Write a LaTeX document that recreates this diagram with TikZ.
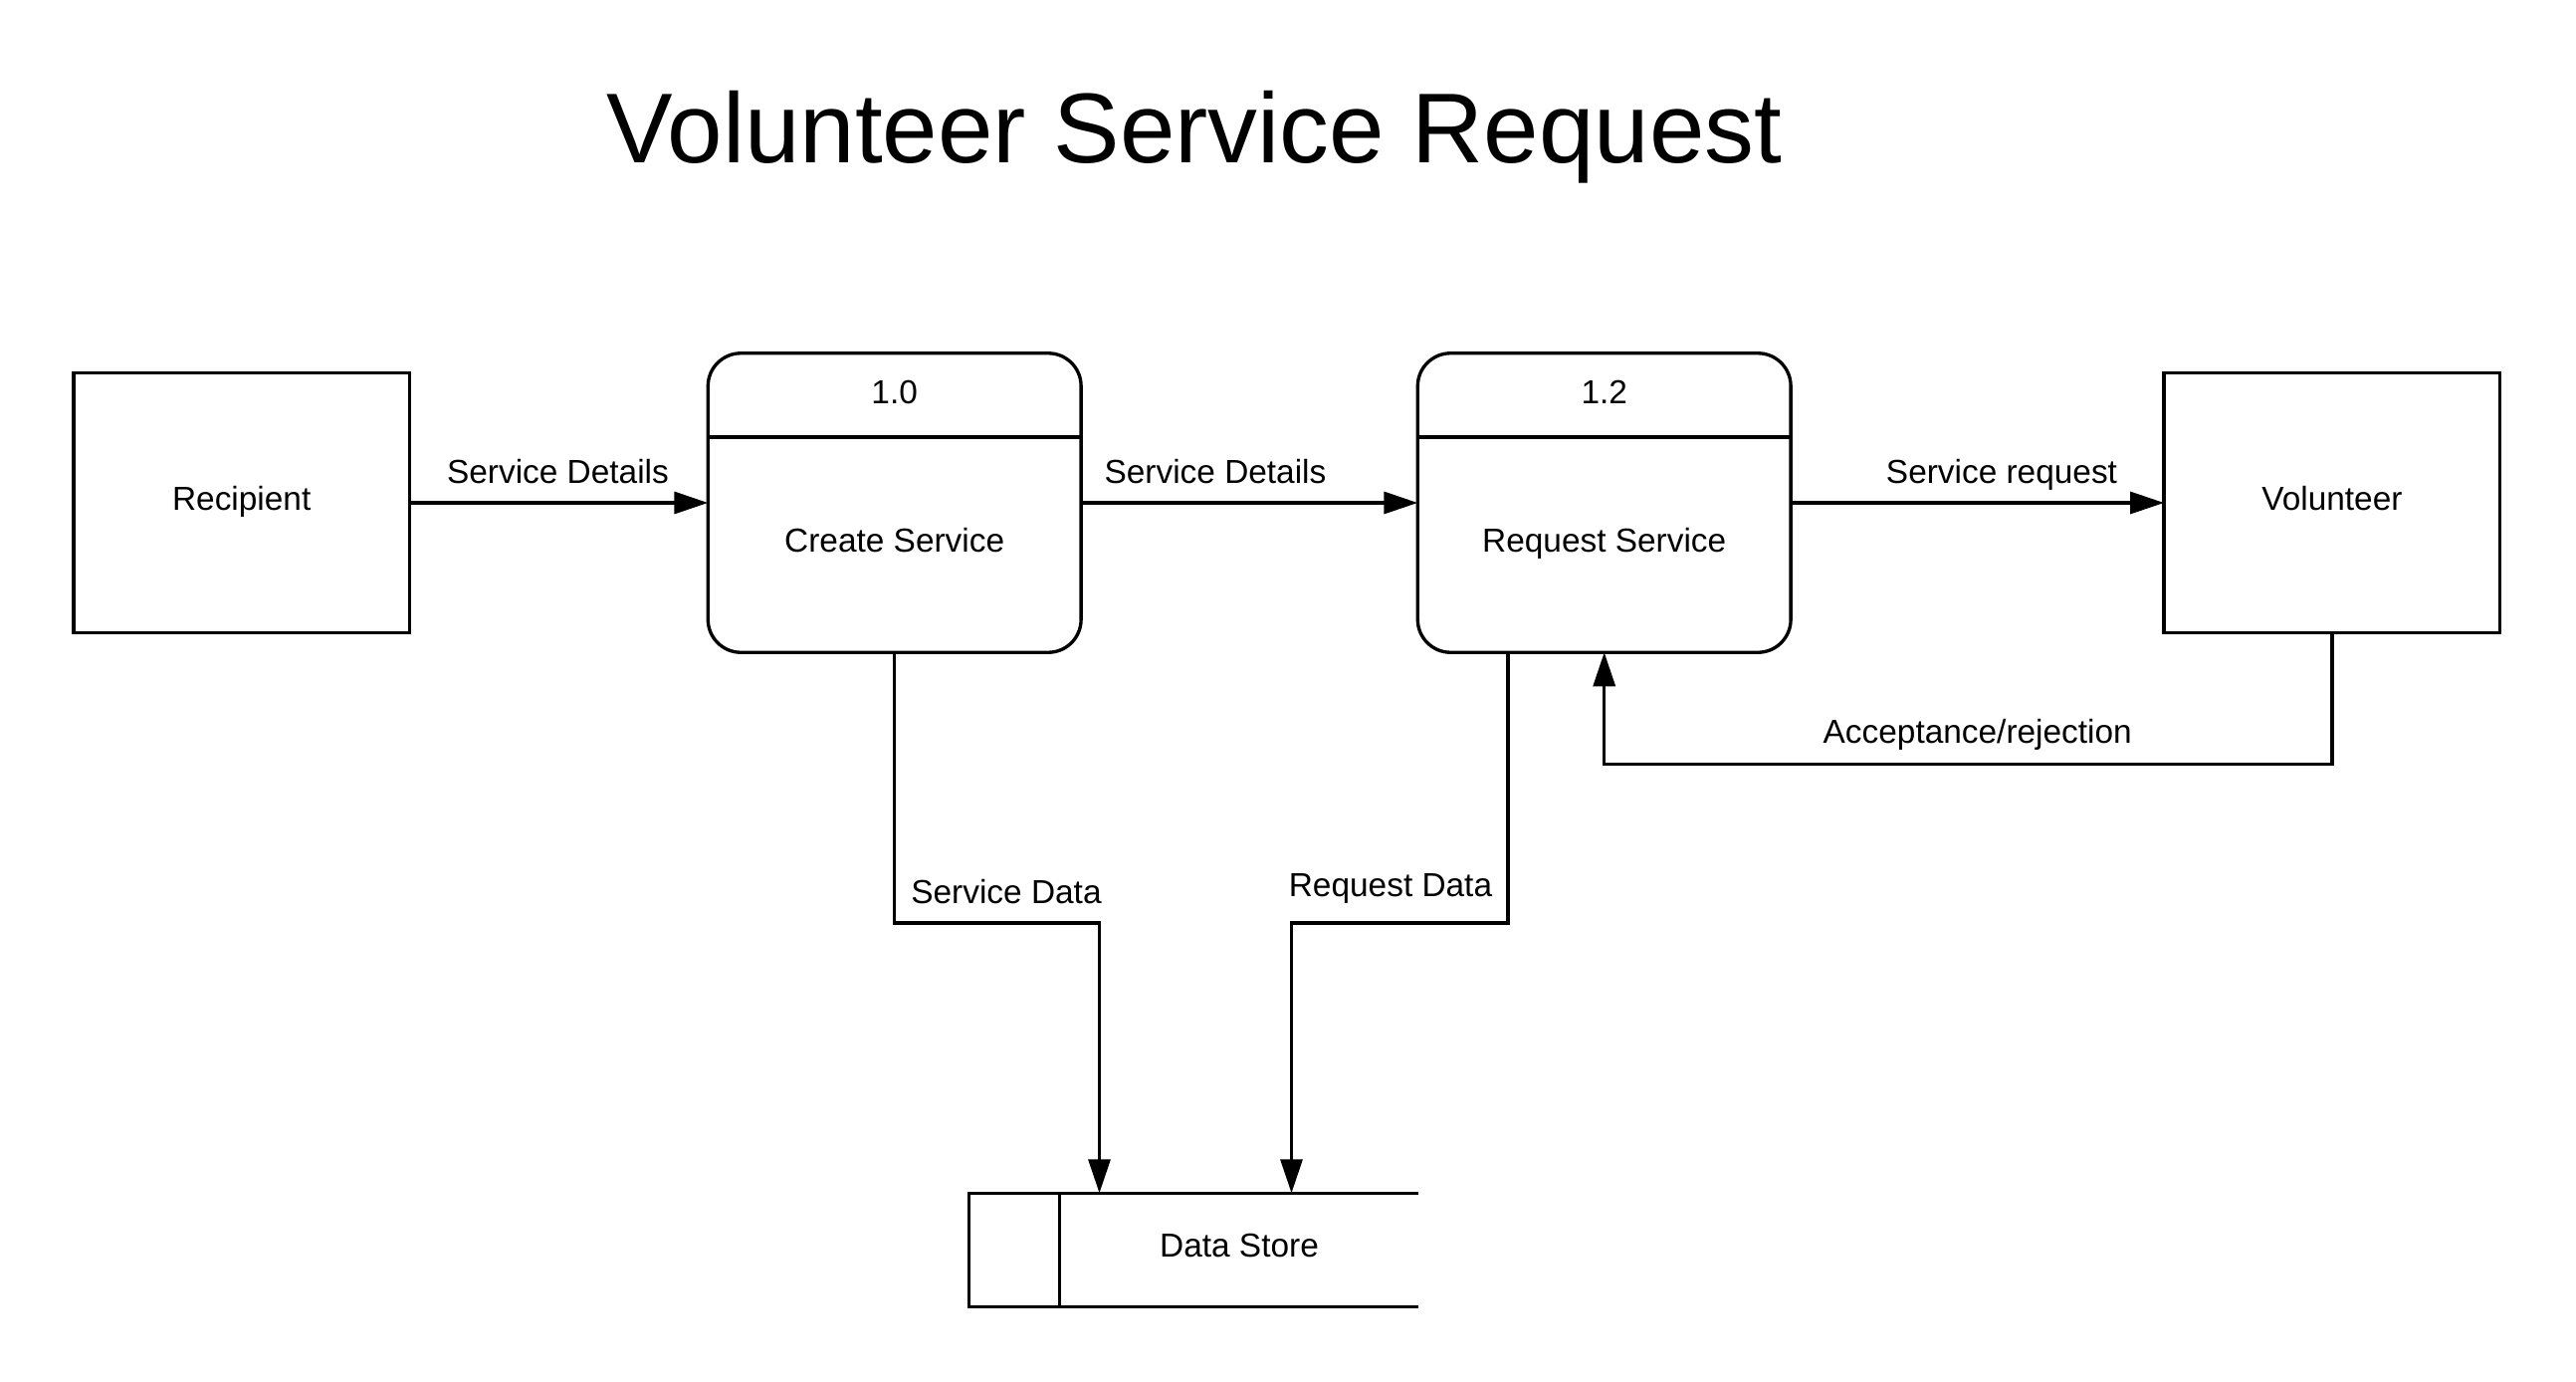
\documentclass[tikz,border=0pt]{standalone}
\usepackage{fontspec}
\setmainfont{Liberation Sans}
\usetikzlibrary{arrows.meta}
\begin{document}
\begin{tikzpicture}[x=0.01cm,y=-0.01cm,
  every node/.style={inner sep=0pt,outer sep=0pt,font=\fontsize{9.5}{11}\selectfont},
  entity/.style={draw,line width=0.95pt,minimum width=3.375cm,minimum height=2.607cm},
  proc/.style={draw,line width=0.95pt,rounded corners=0.33cm,minimum width=3.746cm,minimum height=3.003cm},
  flow/.style={line width=0.95pt,-{Triangle[length=0.34cm,width=0.22cm]}},
  lbl/.style={anchor=base},
  titlefont/.style={font=\fontsize{28.35}{32}\selectfont}
]
\useasboundingbox (0,0) rectangle (2588,1388);
% title
\node[lbl,titlefont] (title) at (1200,164) {Volunteer Service Request};
% entities
\node[entity] (rec) at (242.7,505) {};
\node[entity] (vol) at (2342.9,505) {};
\node[lbl] (rect) at (242.7,512) {Recipient};
\node[lbl] (volt) at (2342.9,512) {Volunteer};
% processes
\node[proc] (cre) at (898.7,505) {};
\node[proc] (req) at (1611.7,505) {};
\draw[line width=0.95pt] (711.4,439) -- (1086,439);
\draw[line width=0.95pt] (1424.4,439) -- (1799,439);
\node[lbl] (cren) at (898.7,405) {1.0};
\node[lbl] (creq) at (1611.7,405) {1.2};
\node[lbl] (cret) at (898.7,554) {Create Service};
\node[lbl] (reqt) at (1611.7,554) {Request Service};
% data store
\node[minimum width=4.506cm,minimum height=1.139cm] (ds) at (1199.1,1255.25) {};
\draw[line width=0.95pt] (ds.north east) -- (ds.north west) -- (ds.south west) -- (ds.south east);
\coordinate (dsdiv) at (1064.6,1198.3);
\draw[line width=0.95pt] (dsdiv) -- (dsdiv |- ds.south);
\node[lbl] (dst) at (1245,1262) {Data Store};
% flows
\draw[flow] (rec.east) -- (cre.west);
\draw[flow] (cre.east) -- (req.west);
\draw[flow] (req.east) -- (vol.west);
\coordinate (sdA) at (1104.5,927);
\draw[flow] (cre.south) |- (sdA) -- (sdA |- ds.north);
\coordinate (rd0) at (1515,655.2);
\coordinate (rdA) at (1297.5,927);
\draw[flow] (rd0) |- (rdA) -- (rdA |- ds.north);
\coordinate (acc) at (1611.7,767.5);
\draw[flow] (vol.south) |- (acc) -- (req.south);
% flow labels
\node[lbl] (l1) at (560.5,485) {Service Details};
\node[lbl] (l2) at (1221,485) {Service Details};
\node[lbl] (l3) at (2011,485) {Service request};
\node[lbl] (l4) at (1986.7,746.7) {Acceptance/rejection};
\node[lbl] (l5) at (1011,907) {Service Data};
\node[lbl] (l6) at (1397,900) {Request Data};
\end{tikzpicture}
\end{document}
